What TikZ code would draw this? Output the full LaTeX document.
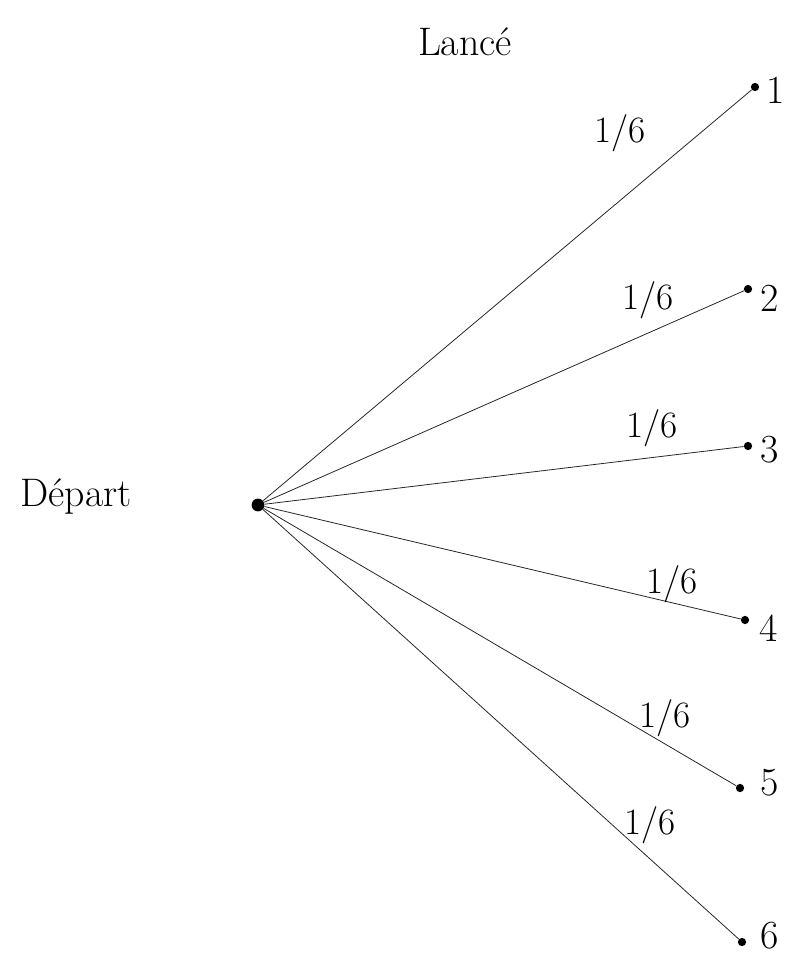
\documentclass[tikz,border=0pt]{standalone}
\usetikzlibrary{positioning}

\begin{document}
\begin{tikzpicture}[x=0.02646cm,y=-0.02646cm,every node/.style={font=\fontsize{30}{36}\selectfont},branch/.style={draw=black!85,line width=0.6pt},leaf/.style={circle,fill=black,inner sep=2.2pt},prob/.style={font=\fontsize{28}{32}\selectfont,inner sep=1pt}]
\useasboundingbox (0,0) rectangle (796,959);
\node[circle,fill=black,inner sep=3.4pt] (root) at (258,505) {};
\node (depart) at (76,497) {Départ};
\node (lance) at (465,42) {Lancé};
\foreach \i/\x/\y/\tx/\ty/\px/\py in {1/755/87/776/90/620/133,2/748/289/770/298/648/300,3/748/446/770/450/652/428,4/745/620/769/628/672/584,5/740/788/770/783/665/718,6/742/942/770/936/650/825}{
  \node[leaf] (l\i) at (\x,\y) {};
  \node (t\i) at (\tx,\ty) {\i};
  \draw[branch] (root) -- (l\i);
  \node[prob] (p\i) at (\px,\py) {1/6};
}
\end{tikzpicture}
\end{document}
